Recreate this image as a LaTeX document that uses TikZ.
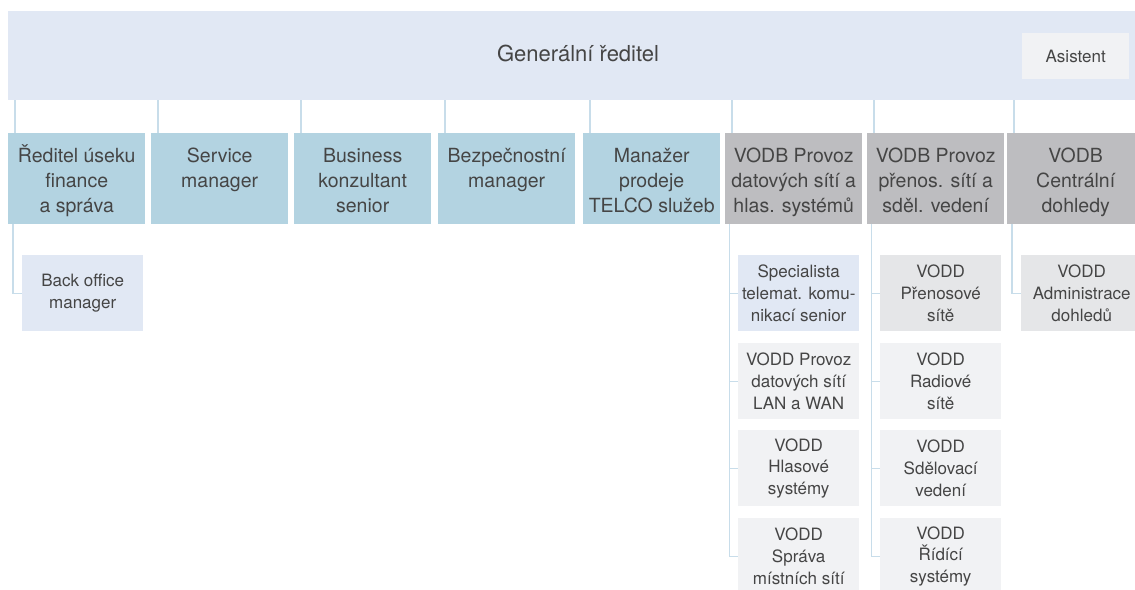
\documentclass[tikz,border=0pt]{standalone}
\usepackage{fontspec}
\setmainfont{TeX Gyre Heros}
\definecolor{topfill}{HTML}{E1E8F4}
\definecolor{paleg}{HTML}{F1F2F4}
\definecolor{midg}{HTML}{E5E6E8}
\definecolor{bluef}{HTML}{B3D3E1}
\definecolor{grayf}{HTML}{BDBDC0}
\definecolor{linec}{HTML}{C8DDEA}
\definecolor{txt}{HTML}{454545}
\begin{document}
\begin{tikzpicture}[x=1pt,y=-1pt,
  box/.style={draw=none, inner sep=0pt, anchor=north west},
  lvl/.style={box, minimum width=137pt, minimum height=91pt},
  sub/.style={box, minimum width=121pt, minimum height=76pt, align=center, text=txt, font=\fontsize{17}{21.7}\selectfont},
  lbl/.style={anchor=base, align=center, text=txt, font=\fontsize{19.5}{25.3}\selectfont, inner sep=0pt},
  conn/.style={draw=linec, line width=1.3pt}]
\clip (0,0) rectangle (1135,589);
% top
\node[box, fill=topfill, minimum width=1140pt, minimum height=89pt] (gr) at (8,11) {};
\node[anchor=base, inner sep=0pt, text=txt, font=\fontsize{22}{26}\selectfont] (grt) at (578,61) {Generální ředitel};
\node[box, fill=paleg, minimum width=107pt, minimum height=46pt, text=txt, font=\fontsize{17}{21}\selectfont] (as) at (1022,33) {Asistent};
% level 2
\node[lvl, fill=bluef] (b1) at (8,133) {};
\node[lvl, fill=bluef] (b2) at (151,133) {};
\node[lvl, fill=bluef] (b3) at (294,133) {};
\node[lvl, fill=bluef] (b4) at (438,133) {};
\node[lvl, fill=bluef] (b5) at (583,133) {};
\node[lvl, fill=grayf] (b6) at (725,133) {};
\node[lvl, fill=grayf] (b7) at (867,133) {};
\node[lvl, fill=grayf] (b8) at (1007,133) {};
% label base = last line baseline; first baseline 29pt below box top
\node[lbl] (t1) at ([yshift=-79.6pt]b1.north) {Ředitel úseku\\finance\\a správa};
\node[lbl] (t2) at ([yshift=-54.3pt]b2.north) {Service\\manager};
\node[lbl] (t3) at ([yshift=-79.6pt]b3.north) {Business\\konzultant\\senior};
\node[lbl] (t4) at ([yshift=-54.3pt]b4.north) {Bezpečnostní\\manager};
\node[lbl] (t5) at ([yshift=-79.6pt]b5.north) {Manažer\\prodeje\\TELCO služeb};
\node[lbl] (t6) at ([yshift=-79.6pt]b6.north) {VODB Provoz\\datových sítí a\\hlas. systémů};
\node[lbl] (t7) at ([yshift=-79.6pt]b7.north) {VODB Provoz\\přenos. sítí a\\sděl. vedení};
\node[lbl] (t8) at ([yshift=-79.6pt]b8.north) {VODB\\Centrální\\dohledy};
% connectors top
\foreach \b in {b1,b2,b3,b4,b5,b6,b7,b8}
  \draw[conn] ([xshift=7pt]\b.north west) -- ([xshift=7pt]\b.north west |- gr.south);
% level 3
\node[sub, fill=topfill] (bo) at (22,255) {Back office\\manager};
\node[sub, fill=topfill] (s61) at (738,255) {Specialista\\telemat. komu-\\nikací senior};
\node[sub, fill=paleg] (s62) at (738,343) {VODD Provoz\\datových sítí\\LAN a WAN};
\node[sub, fill=paleg] (s63) at (738,430) {VODD\\Hlasové\\systémy};
\node[sub, fill=paleg] (s64) at (738,518) {VODD\\Správa\\místních sítí};
\node[sub, fill=midg] (s71) at (880,255) {VODD\\Přenosové\\sítě};
\node[sub, fill=paleg] (s72) at (880,343) {VODD\\Radiové\\sítě};
\node[sub, fill=paleg] (s73) at (880,430) {VODD\\Sdělovací\\vedení};
\node[sub, fill=paleg] (s74) at (880,518) {VODD\\Řídící\\systémy};
\node[sub, fill=midg] (s81) at (1021,255) {VODD\\Administrace\\dohledů};
% connectors lower
\draw[conn] ([xshift=5pt]b1.south west) |- (bo.west);
\foreach \s in {s61,s62,s63,s64}
  \draw[conn] ([xshift=4.5pt]b6.south west) |- (\s.west);
\foreach \s in {s71,s72,s73,s74}
  \draw[conn] ([xshift=4.5pt]b7.south west) |- (\s.west);
\draw[conn] ([xshift=5pt]b8.south west) |- (s81.west);
\end{tikzpicture}
\end{document}
